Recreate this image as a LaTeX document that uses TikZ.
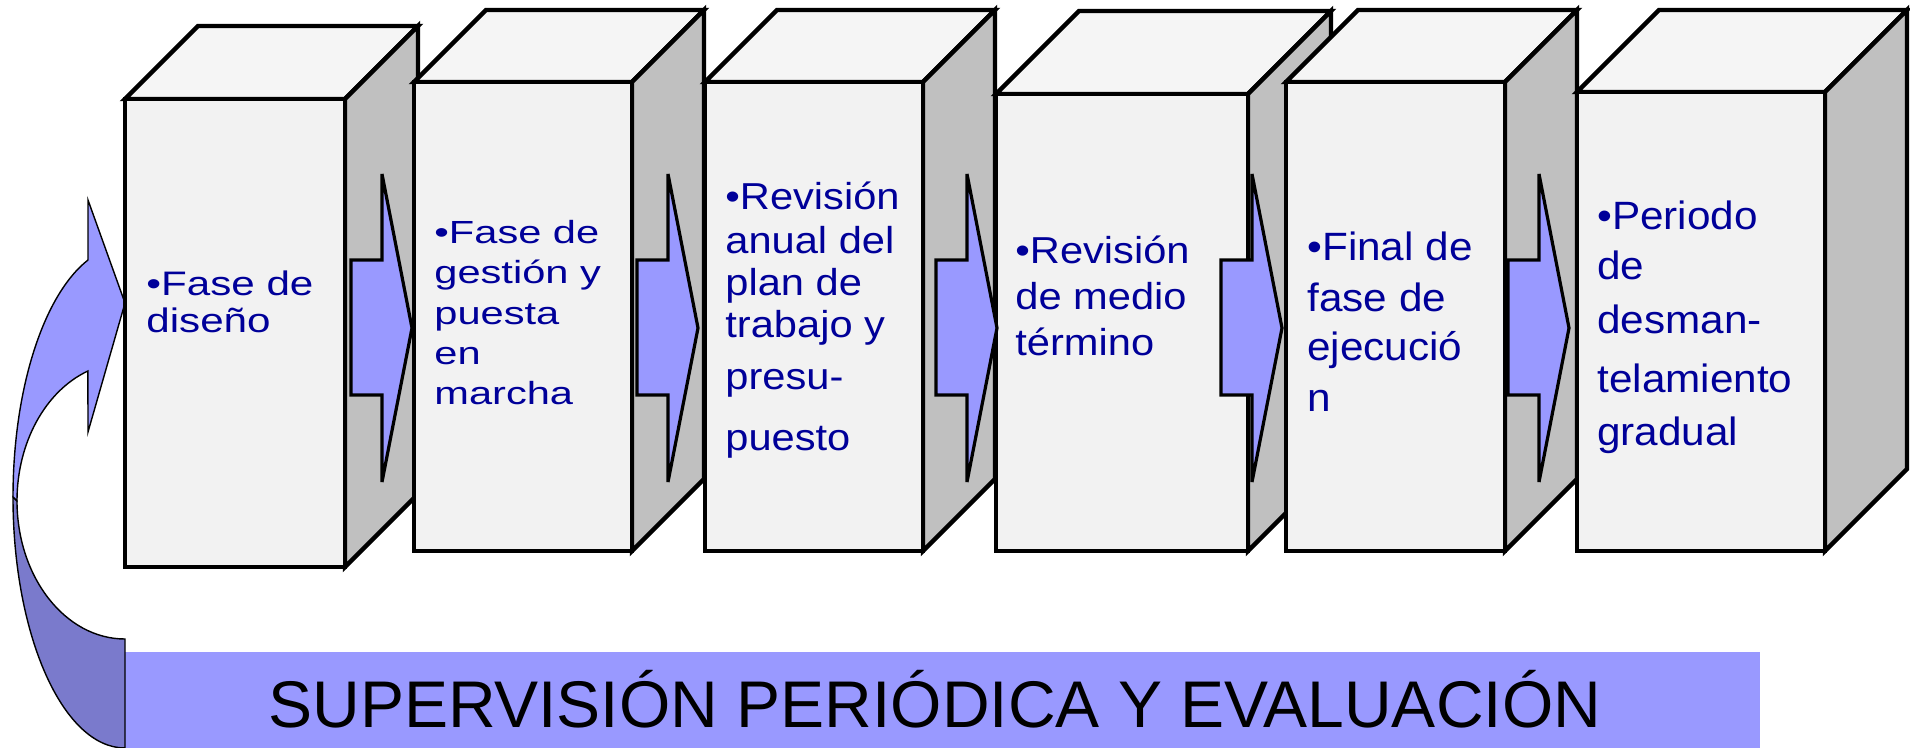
\documentclass[tikz,border=0pt]{standalone}
\usepackage{fontspec}
\setmainfont{Liberation Sans}
\newfontfamily\arialA[FakeStretch=1.24]{Liberation Sans}
\newfontfamily\arialB[FakeStretch=1.30]{Liberation Sans}
\newfontfamily\arialC[FakeStretch=1.11]{Liberation Sans}
\newfontfamily\arialD[FakeStretch=1.07]{Liberation Sans}
\usepackage{tikz}
\usetikzlibrary{positioning}

\definecolor{faceFront}{HTML}{F2F2F2}
\definecolor{faceTop}{HTML}{F5F5F5}
\definecolor{faceSide}{HTML}{C0C0C0}
\definecolor{arrowBlue}{HTML}{9999FF}
\definecolor{arrowDark}{HTML}{7A7ACC}
\definecolor{textBlue}{HTML}{000099}

\tikzset{
  boxline/.style={draw=black, line width=2.2pt},
  arrowline/.style={draw=black, line width=1.6pt, fill=arrowBlue},
  curveline/.style={draw=black, line width=0.7pt},
  phasetext/.style={text=textBlue, align=left, inner sep=0pt, anchor=base west}
}

% 3D box: left x, top y, width, depth, bottom y
\newcommand{\phasebox}[5]{%
  \filldraw[boxline, fill=faceTop] (#1,#2) -- ++(#4,-#4) -- ++(#3,0) -- ++(-#4,#4) -- cycle;
  \filldraw[boxline, fill=faceSide] (#1+#3,#2) -- ++(#4,-#4) -- (#1+#3+#4,#5-#4) -- (#1+#3,#5) -- cycle;
  \filldraw[boxline, fill=faceFront] (#1,#2) rectangle (#1+#3,#5);
}
% block arrow, given its tip x
\newcommand{\steparrow}[1]{%
  \filldraw[arrowline] (#1-61,260) -- (#1-30,260) -- (#1-30,174) -- (#1,328)
    -- (#1-30,482) -- (#1-30,395) -- (#1-61,395) -- cycle;
}

\begin{document}
\begin{tikzpicture}[x=0.5pt, y=-0.5pt]
    \useasboundingbox (0,0) rectangle (1910,748);

    % Supervision band
    \fill[arrowBlue] (125,652) rectangle (1760,748);
    \node[anchor=base west, inner sep=0pt, font=\fontsize{33}{40}\selectfont] (supervision) at (268,727)
        {SUPERVISIÓN PERIÓDICA Y EVALUACIÓN};

    % Curved return arrow
    \filldraw[curveline, fill=arrowDark] (13,497) arc[start angle=180, end angle=90, x radius=112, y radius=251]
        -- (125,639) arc[start angle=90, end angle=180, x radius=108, y radius=138.2] -- cycle;
    \filldraw[curveline, fill=arrowBlue] (88,260) arc[start angle=250.7, end angle=180, x radius=112, y radius=251]
        -- (17,500.8) arc[start angle=180, end angle=249.9, x radius=108, y radius=138.2]
        -- (88,432) -- (125,303) -- (88,200) -- cycle;

    % Phase boxes
    \phasebox{125}{99}{220}{73}{567}
    \phasebox{414}{82}{218}{72}{551}
    \phasebox{705}{82}{218}{72}{551}
    \phasebox{996}{94}{252}{83}{551}
    \phasebox{1286}{82}{219}{72}{551}
    \phasebox{1577}{92}{248}{82}{551}

    % Arrows between phases
    \steparrow{412}
    \steparrow{698}
    \steparrow{997}
    \steparrow{1282}
    \steparrow{1569}

    % Phase texts (placed by the baseline of their last line)
    \node[phasetext, font=\arialA\fontsize{17}{18.5}\selectfont] (diseno) at (146,333)
        {•Fase de\\diseño};
    \node[phasetext, font=\arialB\fontsize{16}{20.25}\selectfont] (gestion) at (434,405)
        {•Fase de\\gestión y\\puesta\\en\\marcha};
    \node[phasetext, font=\arialC\fontsize{18.75}{21}\selectfont] (anual) at (725,450)
        {•Revisión\\[1pt]anual del\\plan de\\trabajo y\\[5pt]presu-\\[9pt]puesto};
    \node[phasetext, font=\arialC\fontsize{18.75}{23}\selectfont] (medio) at (1015,356)
        {•Revisión\\de medio\\término};
    \node[phasetext, font=\arialD\fontsize{19.75}{25}\selectfont] (final) at (1307,411)
        {•Final de\\fase de\\ejecució\\n};
    \node[phasetext, font=\arialD\fontsize{19.75}{25}\selectfont] (periodo) at (1597,445)
        {•Periodo\\de\\[1.7pt]desman-\\[4.7pt]telamiento\\[1.2pt]gradual};
\end{tikzpicture}
\end{document}
